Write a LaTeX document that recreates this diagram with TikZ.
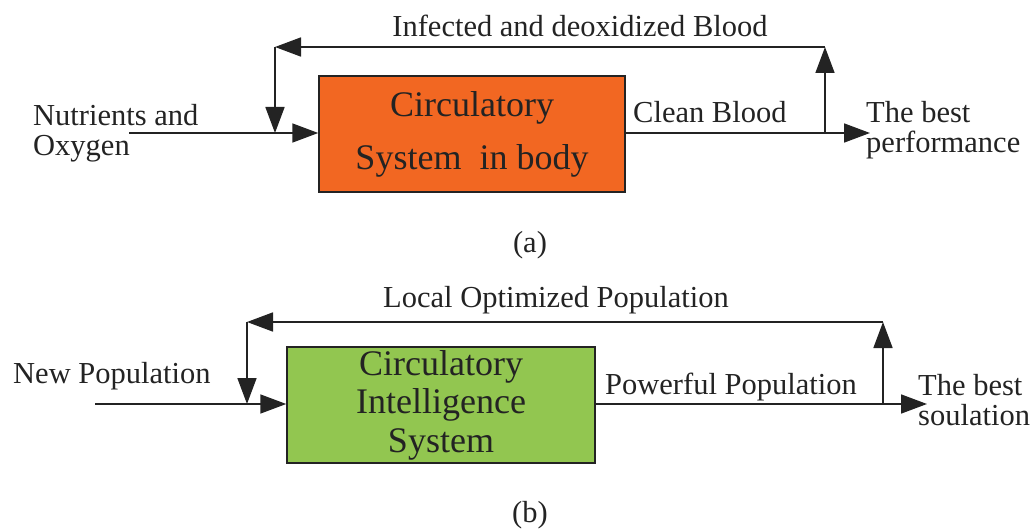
\documentclass[tikz,border=0pt]{standalone}
\usepackage{fontspec}
\setmainfont{Liberation Serif}
\usetikzlibrary{arrows.meta}
\definecolor{boxorange}{RGB}{242,103,34}
\definecolor{boxgreen}{RGB}{146,198,80}
\definecolor{ink}{RGB}{35,35,35}
\tikzset{
  arr/.style={draw=ink, line width=1.7pt, -{Triangle[length=26pt,width=19pt]}},
  ln/.style={draw=ink, line width=1.7pt},
  blk/.style={draw=ink, line width=1.5pt, rectangle, inner sep=0pt, text=ink, align=center},
  lab/.style={inner sep=0pt, text=ink, font=\fontsize{30.5}{30.5}\selectfont},
}
\begin{document}
\begin{tikzpicture}[x=1pt,y=-1pt]
\useasboundingbox (0,0) rectangle (1035,532);
% ---------------- (a)
\node[blk, fill=boxorange, minimum width=306pt, minimum height=116pt,
      font=\fontsize{36}{53}\selectfont] (boxA) at (472,134) {Circulatory\\System\ \ in body};
\coordinate (inA) at (129,133);
\coordinate (jinA) at (275,133);
\coordinate (tlA) at (275,47);
\coordinate (trA) at (825,47);
\coordinate (joA) at (825,133);
\coordinate (outA) at (870,133);
\draw[arr] (inA) -- (boxA.west |- inA);
\draw[ln] (boxA.east |- joA) -- (joA);
\draw[arr] (joA) -- (outA);
\draw[arr] (joA) -- (trA);
\draw[arr] (trA) -- (tlA);
\draw[arr] (tlA) -- (jinA);
\node[lab, anchor=base] (lfbA) at (580,37) {Infected and deoxidized Blood};
\node[lab, anchor=base west] (linA1) at (33,125) {Nutrients and};
\node[lab, anchor=base west] (linA2) at (33,155) {Oxygen};
\node[lab, anchor=base west] (lcbA) at (633,123) {Clean Blood};
\node[lab, anchor=base west] (loA1) at (866,122) {The best};
\node[lab, anchor=base west] (loA2) at (866,152) {performance};
\node[lab, anchor=base] (capA) at (530,252) {(a)};
% ---------------- (b)
\node[blk, fill=boxgreen, minimum width=308pt, minimum height=116pt,
      font=\fontsize{36}{38.5}\selectfont] (boxB) at (441,405) {Circulatory\\Intelligence\\System};
\coordinate (inB) at (95,404);
\coordinate (jinB) at (247,404);
\coordinate (tlB) at (247,322);
\coordinate (trB) at (883,322);
\coordinate (joB) at (883,404);
\coordinate (outB) at (927,404);
\draw[arr] (inB) -- (boxB.west |- inB);
\draw[ln] (boxB.east |- joB) -- (joB);
\draw[arr] (joB) -- (outB);
\draw[arr] (joB) -- (trB);
\draw[arr] (trB) -- (tlB);
\draw[arr] (tlB) -- (jinB);
\node[lab, anchor=base west] (lfbB) at (383,307) {Local Optimized Population};
\node[lab, anchor=base west] (linB) at (13,383) {New Population};
\node[lab, anchor=base west] (lpB) at (605,394) {Powerful Population};
\node[lab, anchor=base west] (loB1) at (918,395) {The best};
\node[lab, anchor=base west] (loB2) at (918,425) {soulation};
\node[lab, anchor=base] (capB) at (530,522) {(b)};
\end{tikzpicture}
\end{document}
